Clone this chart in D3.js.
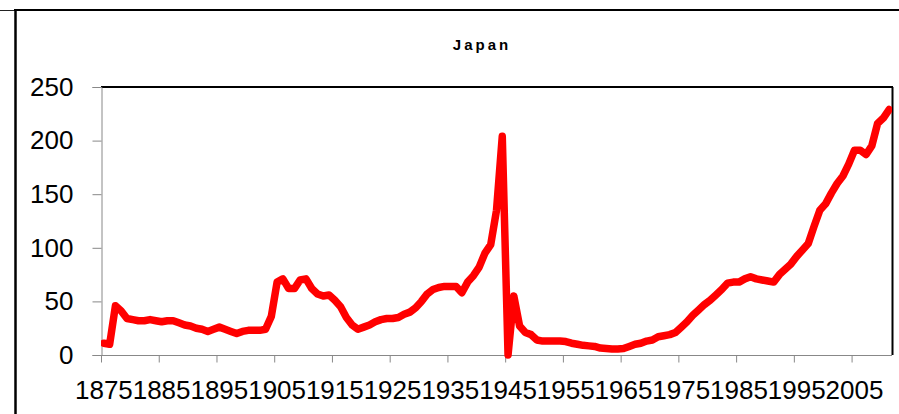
<!DOCTYPE html>
<html>
<head>
<meta charset="utf-8">
<script src="https://cdn.jsdelivr.net/npm/d3@7"></script>
<style>
  html, body { margin: 0; padding: 0; background: #fff; }
  svg { display: block; }
  text { font-family: "Liberation Sans", Arial, sans-serif; fill: #000; }
</style>
</head>
<body>
<svg id="chart" width="899" height="414"></svg>
<script>
// Japan, yearly series 1875–2011
const title = "Japan";
const firstYear = 1875;
const values = [
  11, 10, 46, 41, 34, 33, 32, 32, 33, 32,   // 1875–1884
  31, 32, 32, 30, 28, 27, 25, 24, 22, 24,   // 1885–1894
  26, 24, 22, 20, 22, 23, 23, 23, 24, 36,   // 1895–1904
  68, 71, 62, 62, 70, 71, 62, 57, 55, 56,   // 1905–1914
  51, 45, 35, 28, 24, 26, 28, 31, 33, 34,   // 1915–1924
  34, 35, 38, 40, 44, 50, 57, 61, 63, 64,   // 1925–1934
  64, 64, 58, 68, 74, 82, 95, 103, 135, 204,// 1935–1944
  0, 55, 27, 21, 19, 14, 13, 13, 13, 13,    // 1945–1954
  12.5, 11, 10, 9, 8.5, 8, 6.5, 6, 5.5, 5.5,// 1955–1964
  6, 8, 10, 11, 13, 14, 17, 18, 19, 21,     // 1965–1974
  26, 31, 37, 42, 47, 51, 56, 61, 67, 68,   // 1975–1984
  68, 71, 73, 71, 70, 69, 68, 75, 80, 85,   // 1985–1994
  92, 98, 104, 120, 135, 141, 151, 160, 167, 178, // 1995–2004
  191, 191, 187, 195, 216, 221, 229         // 2005–2011
];
const years = values.map((_, i) => firstYear + i);
const yTicks = [0, 50, 100, 150, 200, 250];
const xTickYears = [1875, 1885, 1895, 1905, 1915, 1925, 1935, 1945, 1955, 1965, 1975, 1985, 1995, 2005];

const svg = d3.select("#chart");
const plot = { left: 101, right: 892, top: 87, bottom: 355 };

// categories sit between tick marks: each year owns one band
const x = d3.scaleBand()
  .domain(years)
  .range([plot.left, plot.right])
  .paddingInner(0).paddingOuter(0);
const y = d3.scaleLinear().domain([0, 250]).range([plot.bottom, plot.top]);

// outer chart frame (top and left edges)
svg.append("line").attr("x1", 0).attr("x2", 15).attr("y1", 10.5).attr("y2", 10.5)
  .attr("stroke", "#222").attr("stroke-width", 1);
svg.append("line").attr("x1", 14).attr("x2", 899).attr("y1", 10).attr("y2", 10)
  .attr("stroke", "#000").attr("stroke-width", 2);
svg.append("line").attr("x1", 15.5).attr("x2", 15.5).attr("y1", 9).attr("y2", 414)
  .attr("stroke", "#000").attr("stroke-width", 2.5);

// title
svg.append("text")
  .attr("x", 482).attr("y", 50)
  .attr("text-anchor", "middle")
  .style("font-size", "15px").style("font-weight", "bold")
  .style("letter-spacing", "3px")
  .text(title);

// plot area border (top and right)
svg.append("line").attr("x1", plot.left).attr("x2", plot.right + 1).attr("y1", plot.top).attr("y2", plot.top)
  .attr("stroke", "#000").attr("stroke-width", 2);
svg.append("line").attr("x1", plot.right + 0.5).attr("x2", plot.right + 0.5).attr("y1", plot.top).attr("y2", plot.bottom)
  .attr("stroke", "#000").attr("stroke-width", 2);

// y axis
const yAxis = d3.axisLeft(y).tickValues(yTicks).tickSize(9).tickPadding(19).tickFormat(d3.format("d"));
const gy = svg.append("g").attr("transform", `translate(${plot.left + 0.5},0)`).call(yAxis);
gy.select(".domain").attr("stroke", "#888");
gy.selectAll(".tick line").attr("stroke", "#888");
gy.selectAll(".tick text").style("font-size", "26px").style("font-family", "'Liberation Sans', Arial, sans-serif")
  .attr("fill", "#000");

// x axis: ticks on category boundaries, labels centred on categories
const bw = x.bandwidth();
const xAxis = d3.axisBottom(x).tickValues(xTickYears).tickSizeOuter(0).tickSize(0).tickPadding(0);
const gx = svg.append("g").attr("transform", `translate(0,${plot.bottom + 0.5})`).call(xAxis);
gx.select(".domain").attr("stroke", "#888").attr("d", `M${plot.left},0H${plot.right}`);
gx.selectAll(".tick text")
  .style("font-size", "26px").style("font-family", "'Liberation Sans', Arial, sans-serif")
  .attr("fill", "#000").attr("dy", 0).attr("y", 43);
gx.selectAll(".tick").append("line")
  .attr("x1", -bw / 2 + 0.5).attr("x2", -bw / 2 + 0.5).attr("y1", 0).attr("y2", 7)
  .attr("stroke", "#888");
gx.select(".tick line").remove();

// series line
svg.append("clipPath").attr("id", "plotClip")
  .append("rect").attr("x", plot.left).attr("y", 0).attr("width", plot.right - plot.left).attr("height", 414);

const line = d3.line()
  .x((d, i) => x(years[i]) + bw / 2)
  .y(d => y(d));

svg.append("path")
  .datum(values)
  .attr("clip-path", "url(#plotClip)")
  .attr("d", line)
  .attr("fill", "none")
  .attr("stroke", "#ff0000")
  .attr("stroke-width", 7.5)
  .attr("stroke-linejoin", "round")
  .attr("stroke-linecap", "round");
</script>
</body>
</html>
